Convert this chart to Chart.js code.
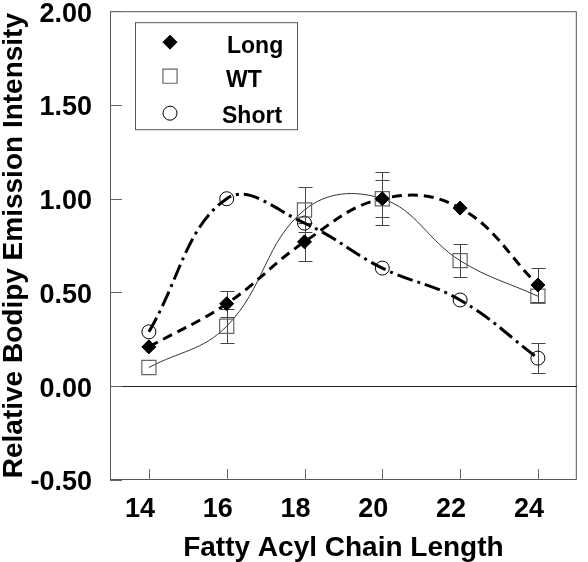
<!DOCTYPE html>
<html>
<head>
<meta charset="utf-8">
<script src="https://cdn.jsdelivr.net/npm/chart.js@4.4.1/dist/chart.umd.min.js"></script>
<style>
  body { margin: 0; background: #fff; }
  #wrap { width: 588px; height: 562px; }
</style>
</head>
<body>
<div id="wrap"><canvas id="bodipyChart" width="588" height="562"></canvas></div>
<script>
// values
const chainLengths = [14, 16, 18, 20, 22, 24];
const longValues = [0.21, 0.44, 0.77, 1.00, 0.95, 0.54];
const longErrors = [0, 0.07, 0.10, 0.10, 0, 0.09];
const wtValues = [0.10, 0.32, 0.94, 1.00, 0.67, 0.48];
const wtErrors = [0, 0.09, 0.12, 0.14, 0.09, 0];
const shortValues = [0.29, 1.00, 0.87, 0.63, 0.46, 0.15];
const shortErrors = [0, 0, 0, 0, 0, 0.08];
const yTicks = [-0.5, 0, 0.5, 1.0, 1.5, 2.0];
const seriesNames = ['Long', 'WT', 'Short'];

const FONT = "Arial, 'Liberation Sans', Helvetica, sans-serif";

function pts(vals) {
  return chainLengths.map((x, i) => ({ x: x, y: vals[i] }));
}

// frame, zero line, inward ticks and error bars
const frame = {
  id: 'frame',
  beforeDatasetsDraw(chart) {
    const { ctx, chartArea: a, scales: { x, y } } = chart;
    ctx.save();
    ctx.lineWidth = 1;
    ctx.strokeStyle = '#555';
    ctx.strokeRect(a.left + 0.5, a.top + 0.5, a.right - a.left - 1, a.bottom - a.top - 1);

    ctx.beginPath();
    const y0 = Math.round(y.getPixelForValue(0)) + 0.5;
    ctx.strokeStyle = '#222';
    ctx.moveTo(a.left, y0);
    ctx.lineTo(a.right, y0);
    ctx.stroke();

    ctx.strokeStyle = '#666';
    ctx.beginPath();
    chainLengths.forEach(v => {
      const px = Math.round(x.getPixelForValue(v)) + 0.5;
      ctx.moveTo(px, a.bottom);
      ctx.lineTo(px, a.bottom - 11);
    });
    yTicks.forEach(v => {
      const py = Math.round(y.getPixelForValue(v)) + 0.5;
      ctx.moveTo(a.left, py);
      ctx.lineTo(a.left + 12, py);
    });
    ctx.stroke();

    ctx.strokeStyle = '#444';
    ctx.beginPath();
    chart.data.datasets.forEach(ds => {
      ds.errors.forEach((e, i) => {
        if (!e) return;
        const px = Math.round(x.getPixelForValue(ds.data[i].x)) + 0.5;
        const hi = Math.round(y.getPixelForValue(ds.data[i].y + e)) + 0.5;
        const lo = Math.round(y.getPixelForValue(ds.data[i].y - e)) + 0.5;
        ctx.moveTo(px, hi); ctx.lineTo(px, lo);
        ctx.moveTo(px - 7, hi); ctx.lineTo(px + 7, hi);
        ctx.moveTo(px - 7, lo); ctx.lineTo(px + 7, lo);
      });
    });
    ctx.stroke();
    ctx.restore();
  }
};

// boxed key in the upper left corner
const keyBox = {
  id: 'keyBox',
  afterDraw(chart) {
    const { ctx, chartArea: a } = chart;
    const bx = a.left + 25, by = a.top + 11;
    const rowY = [20, 54, 91];
    const textX = [92, 91, 87];
    const textY = [31, 65, 101];
    ctx.save();
    ctx.strokeStyle = '#555';
    ctx.lineWidth = 1;
    ctx.strokeRect(bx + 0.5, by + 0.5, 162, 107);
    chart.data.datasets.forEach((ds, i) => {
      ctx.fillStyle = ds.pointBackgroundColor;
      ctx.strokeStyle = ds.pointBorderColor;
      ctx.lineWidth = ds.pointBorderWidth;
      Chart.helpers.drawPoint(ctx, {
        pointStyle: ds.pointStyle,
        radius: ds.pointRadius,
        borderWidth: ds.pointBorderWidth,
        rotation: 0
      }, bx + 35, by + rowY[i]);
      ctx.fillStyle = '#000';
      ctx.font = 'bold 23px ' + FONT;
      ctx.textBaseline = 'alphabetic';
      ctx.textAlign = 'left';
      ctx.fillText(seriesNames[i], bx + textX[i], by + textY[i]);
    });
    ctx.restore();
  }
};

new Chart(document.getElementById('bodipyChart'), {
  type: 'line',
  data: {
    datasets: [
      {
        label: seriesNames[0],
        data: pts(longValues),
        errors: longErrors,
        borderColor: '#000',
        borderWidth: 3,
        borderDash: [10, 6],
        pointStyle: 'rectRot',
        pointRadius: 7,
        pointBackgroundColor: '#000',
        pointBorderColor: '#000',
        pointBorderWidth: 1,
        tension: 0.4
      },
      {
        label: seriesNames[1],
        data: pts(wtValues),
        errors: wtErrors,
        borderColor: '#333',
        borderWidth: 1,
        pointStyle: 'rect',
        pointRadius: 10,
        pointBackgroundColor: 'rgba(0,0,0,0)',
        pointBorderColor: '#666',
        pointBorderWidth: 1.2,
        tension: 0.4
      },
      {
        label: seriesNames[2],
        data: pts(shortValues),
        errors: shortErrors,
        borderColor: '#000',
        borderWidth: 3,
        borderDash: [16, 5, 3, 5],
        pointStyle: 'circle',
        pointRadius: 7,
        pointBackgroundColor: 'rgba(0,0,0,0)',
        pointBorderColor: '#000',
        pointBorderWidth: 1,
        tension: 0.4
      }
    ]
  },
  options: {
    responsive: false,
    animation: false,
    layout: { padding: { top: 10, right: -5, left: 0, bottom: 0 } },
    plugins: {
      legend: { display: false },
      tooltip: { enabled: false }
    },
    scales: {
      x: {
        type: 'linear',
        min: 13,
        max: 25,
        grid: { display: false },
        border: { display: false },
        afterBuildTicks: s => { s.ticks = chainLengths.map(v => ({ value: v })); },
        afterFit: s => { s.height = 82; s.paddingLeft = 0; s.paddingRight = 0; },
        ticks: {
          color: '#000',
          padding: 8,
          labelOffset: -9,
          maxRotation: 0,
          font: { family: FONT, size: 27, weight: 'bold', lineHeight: 1 }
        },
        title: {
          display: true,
          text: 'Fatty Acyl Chain Length',
          color: '#000',
          padding: 0,
          font: { family: FONT, size: 28, weight: 'bold', lineHeight: 1 }
        }
      },
      y: {
        min: -0.5,
        max: 2,
        grid: { display: false },
        border: { display: false },
        afterBuildTicks: s => { s.ticks = yTicks.map(v => ({ value: v })); },
        afterFit: s => { s.width = 110; s.paddingTop = 0; s.paddingBottom = 0; },
        ticks: {
          color: '#000',
          padding: 10,
          labelOffset: 3,
          callback: v => v.toFixed(2),
          font: { family: FONT, size: 27, weight: 'bold', lineHeight: 1 }
        },
        title: {
          display: true,
          text: 'Relative Bodipy Emission Intensity',
          color: '#000',
          padding: 0,
          font: { family: FONT, size: 28, weight: 'bold', lineHeight: 1 }
        }
      }
    }
  },
  plugins: [frame, keyBox]
});
</script>
</body>
</html>
